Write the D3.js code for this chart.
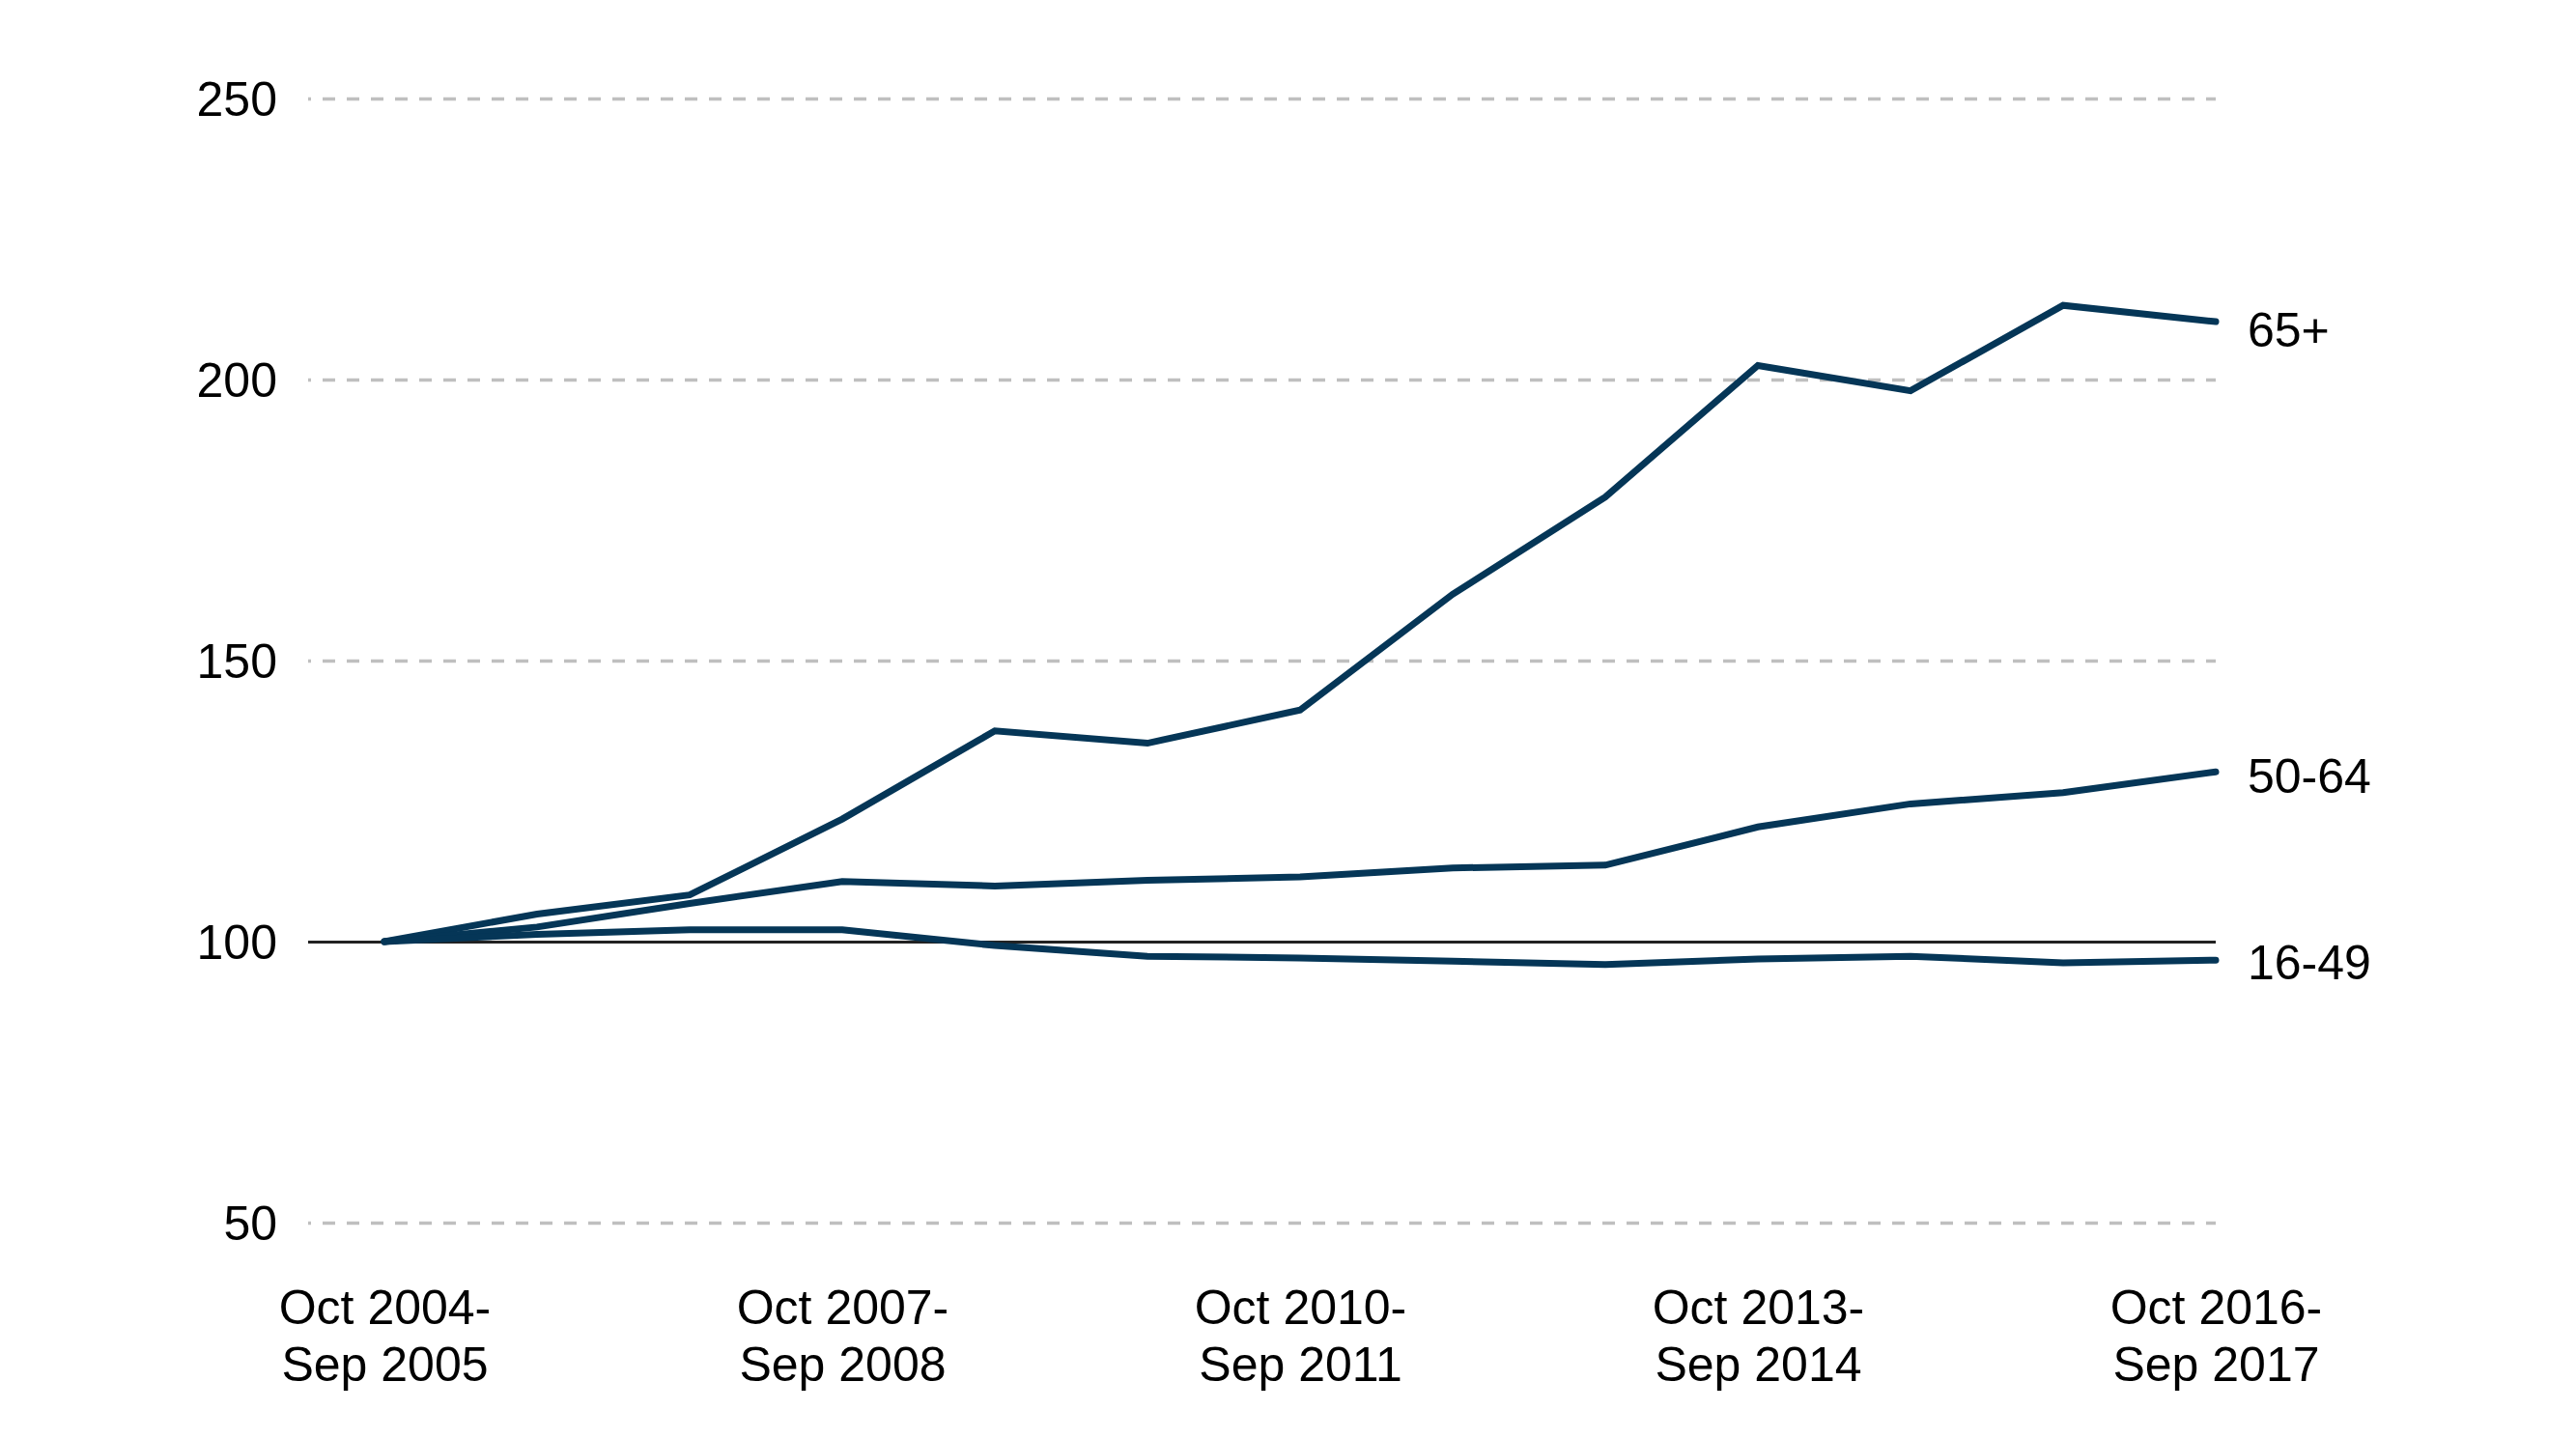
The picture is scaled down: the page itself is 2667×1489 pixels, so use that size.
<!DOCTYPE html>
<html lang="en">
<head>
    <meta charset="UTF-8">
    <title>Index by age group</title>
    <script src="https://cdnjs.cloudflare.com/ajax/libs/d3/7.8.5/d3.min.js"></script>
    <style>
        body { margin: 0; background: #fff; }
        svg { display: block; font-family: "Liberation Sans", Arial, sans-serif; }
        .tick text { font-size: 50px; fill: #000; }
        .series-label { font-size: 50px; fill: #000; }
        .line { fill: none; stroke: #053657; stroke-width: 7px; stroke-linejoin: miter; stroke-linecap: round; }
    </style>
</head>
<body>
    <svg width="2667" height="1489"></svg>

    <script>
        // periods (financial years)
        const periods = [
            "Oct 2004-|Sep 2005", "Oct 2005-|Sep 2006", "Oct 2006-|Sep 2007",
            "Oct 2007-|Sep 2008", "Oct 2008-|Sep 2009", "Oct 2009-|Sep 2010",
            "Oct 2010-|Sep 2011", "Oct 2011-|Sep 2012", "Oct 2012-|Sep 2013",
            "Oct 2013-|Sep 2014", "Oct 2014-|Sep 2015", "Oct 2015-|Sep 2016",
            "Oct 2016-|Sep 2017"
        ];
        const shownPeriods = [0, 3, 6, 9, 12].map(i => periods[i]);

        const age65plus = [100, 104.9, 108.3, 121.8, 137.5, 135.3, 141.2, 161.8, 179.1, 202.5, 198.0, 213.2, 210.3];
        const age50to64 = [100, 102.6, 106.8, 110.7, 109.9, 110.9, 111.5, 113.1, 113.6, 120.4, 124.5, 126.5, 130.2];
        const age16to49 = [100, 101.3, 102.1, 102.1, 99.3, 97.4, 97.1, 96.5, 95.9, 96.9, 97.4, 96.2, 96.7];

        const seriesNames = ["65+", "50-64", "16-49"];
        const seriesValues = [age65plus, age50to64, age16to49];
        const labelNudge = [8, 4, 2];

        const yTicks = [50, 100, 150, 200, 250];

        const svg = d3.select("svg");

        const x = d3.scalePoint().domain(periods).range([398, 2294]);
        const y = d3.scaleLinear().domain([50, 250]).range([1266, 102]);
        const gridLeft = 319;

        // y axis + gridlines
        const yAxis = svg.append("g")
            .attr("transform", `translate(${gridLeft},0)`)
            .call(d3.axisLeft(y)
                .tickValues(yTicks)
                .tickSize(-(x.range()[1] - gridLeft))
                .tickPadding(32));
        yAxis.select(".domain").remove();
        yAxis.selectAll(".tick line")
            .attr("stroke", d => d === 100 ? "#222" : "#bfbfbf")
            .attr("stroke-width", d => d === 100 ? 3 : 3.5)
            .attr("stroke-dasharray", d => d === 100 ? null : "13,12")
            .attr("stroke-dashoffset", 10);
        yAxis.selectAll(".tick text").attr("dy", "0.35em");

        // x axis, two-line labels
        const xAxis = svg.append("g")
            .attr("transform", "translate(0,1371)")
            .call(d3.axisBottom(x).tickValues(shownPeriods).tickSize(0).tickPadding(0));
        xAxis.select(".domain").remove();
        xAxis.selectAll(".tick text").each(function(d) {
            const t = d3.select(this).text(null).attr("y", 0).attr("dy", null);
            d.split("|").forEach((part, i) => {
                t.append("tspan").attr("x", 0).attr("y", i * 59).text(part);
            });
        });

        // lines
        const line = d3.line()
            .x((d, i) => x(periods[i]))
            .y(d => y(d));

        svg.selectAll(".line")
            .data(seriesValues)
            .enter()
            .append("path")
            .attr("class", "line")
            .attr("d", d => line(d));

        // end labels
        svg.selectAll(".series-label")
            .data(seriesValues)
            .enter()
            .append("text")
            .attr("class", "series-label")
            .attr("x", x(periods[periods.length - 1]) + 33)
            .attr("y", (d, i) => y(d[d.length - 1]) + labelNudge[i])
            .attr("dy", "0.35em")
            .text((d, i) => seriesNames[i]);
    </script>
</body>
</html>
